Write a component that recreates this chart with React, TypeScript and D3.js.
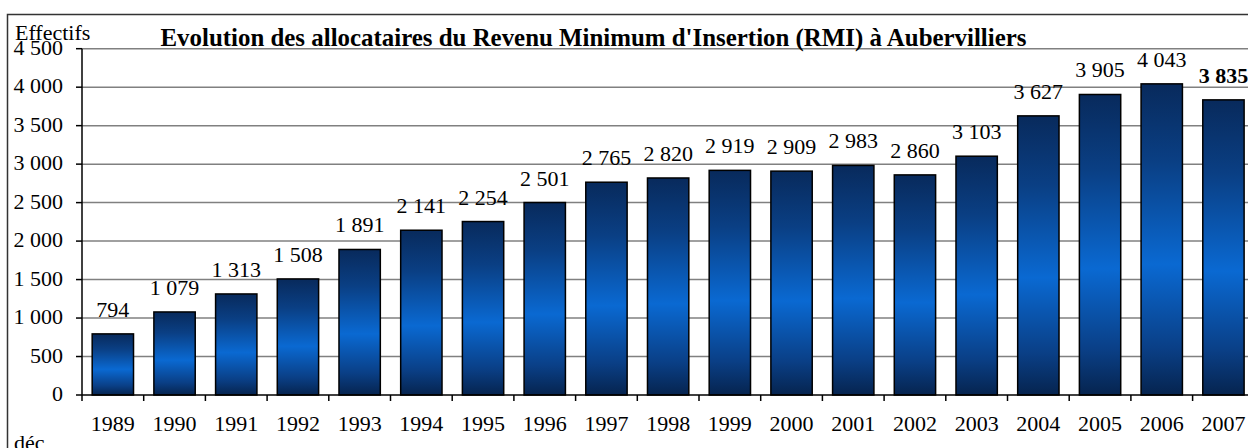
import React from "react";
import * as d3 from "d3";

const years = ["1989","1990","1991","1992","1993","1994","1995","1996","1997","1998","1999","2000","2001","2002","2003","2004","2005","2006","2007"];
const values = [794,1079,1313,1508,1891,2141,2254,2501,2765,2820,2919,2909,2983,2860,3103,3627,3905,4043,3835];
const yTicks = [0,500,1000,1500,2000,2500,3000,3500,4000,4500];
const title = "Evolution des allocataires du Revenu Minimum d'Insertion (RMI) à Aubervilliers";

const fmt = (v: number) => d3.format(",")(v).replace(/,/g, " ");

export default function App() {
  const W = 1248, H = 448;
  const left = 82, bandW = 61.7;
  const x = d3.scaleBand<string>().domain(years).range([left, left + bandW * years.length]).paddingInner(0.33).paddingOuter(0.165);
  const y = d3.scaleLinear().domain([0, 4500]).range([395, 48.7]);
  const font = "Liberation Serif";
  const bandEdges = d3.range(years.length + 1).map(i => left + i * bandW);
  const ts = { fontFamily: font };
  return (
    <svg width={W} height={H} style={{ position: "absolute", left: 0, top: 0, background: "#fff", fontFamily: font }}>
      <defs>
        <linearGradient id="barGrad" x1="0" y1="0" x2="0" y2="1">
          <stop offset="0" stopColor="#082a5c" />
          <stop offset="0.25" stopColor="#0a3f84" />
          <stop offset="0.58" stopColor="#0a69d2" />
          <stop offset="0.85" stopColor="#0a3f86" />
          <stop offset="1" stopColor="#06244f" />
        </linearGradient>
      </defs>
      <rect x={0} y={0} width={W} height={H} fill="#fff" />
      <rect x={7.5} y={14.5} width={W + 20} height={H + 20} fill="none" stroke="#333" strokeWidth={1.5} />
      {yTicks.filter(t => t > 0).map(t => (
        <line key={t} x1={left} x2={W + 10} y1={y(t)} y2={y(t)} stroke="#808080" strokeWidth={1.5} />
      ))}
      {values.map((v, i) => (
        <rect key={years[i]} x={x(years[i])} y={y(v)} width={x.bandwidth()} height={y(0) - y(v)}
          fill="url(#barGrad)" stroke="#000" strokeWidth={1.5} />
      ))}
      <line x1={left} x2={left} y1={y(4500)} y2={y(0)} stroke="#000" strokeWidth={1.5} />
      <line x1={left} x2={W + 10} y1={y(0)} y2={y(0)} stroke="#000" strokeWidth={1.5} />
      {yTicks.map(t => (
        <g key={t}>
          <line x1={left - 6} x2={left} y1={y(t)} y2={y(t)} stroke="#000" strokeWidth={1.5} />
          <text x={63} y={y(t) + 6} textAnchor="end" fontSize={22} fill="#000" style={ts}>{fmt(t)}</text>
        </g>
      ))}
      {bandEdges.map((e, i) => (
        <line key={i} x1={e} x2={e} y1={y(0)} y2={y(0) + 6} stroke="#000" strokeWidth={1.5} />
      ))}
      {years.map(yr => (
        <text key={yr} x={(x(yr) as number) + x.bandwidth() / 2} y={431} textAnchor="middle" fontSize={22} fill="#000" style={ts}>{yr}</text>
      ))}
      {values.map((v, i) => (
        <text key={"l" + i} x={(x(years[i]) as number) + x.bandwidth() / 2} y={y(v) - 17} textAnchor="middle"
          fontSize={22} fontWeight={i === values.length - 1 ? "bold" : "normal"} fill="#000" style={ts}>{fmt(v)}</text>
      ))}
      <text x={160.5} y={46} fontSize={26} fontWeight="bold" fill="#000" style={ts} textLength={866} lengthAdjust="spacingAndGlyphs">{title}</text>
      <text x={15} y={40} fontSize={22} fill="#000" style={ts}>Effectifs</text>
      <text x={14} y={450} fontSize={22} fill="#000" style={ts}>déc</text>
    </svg>
  );
}
